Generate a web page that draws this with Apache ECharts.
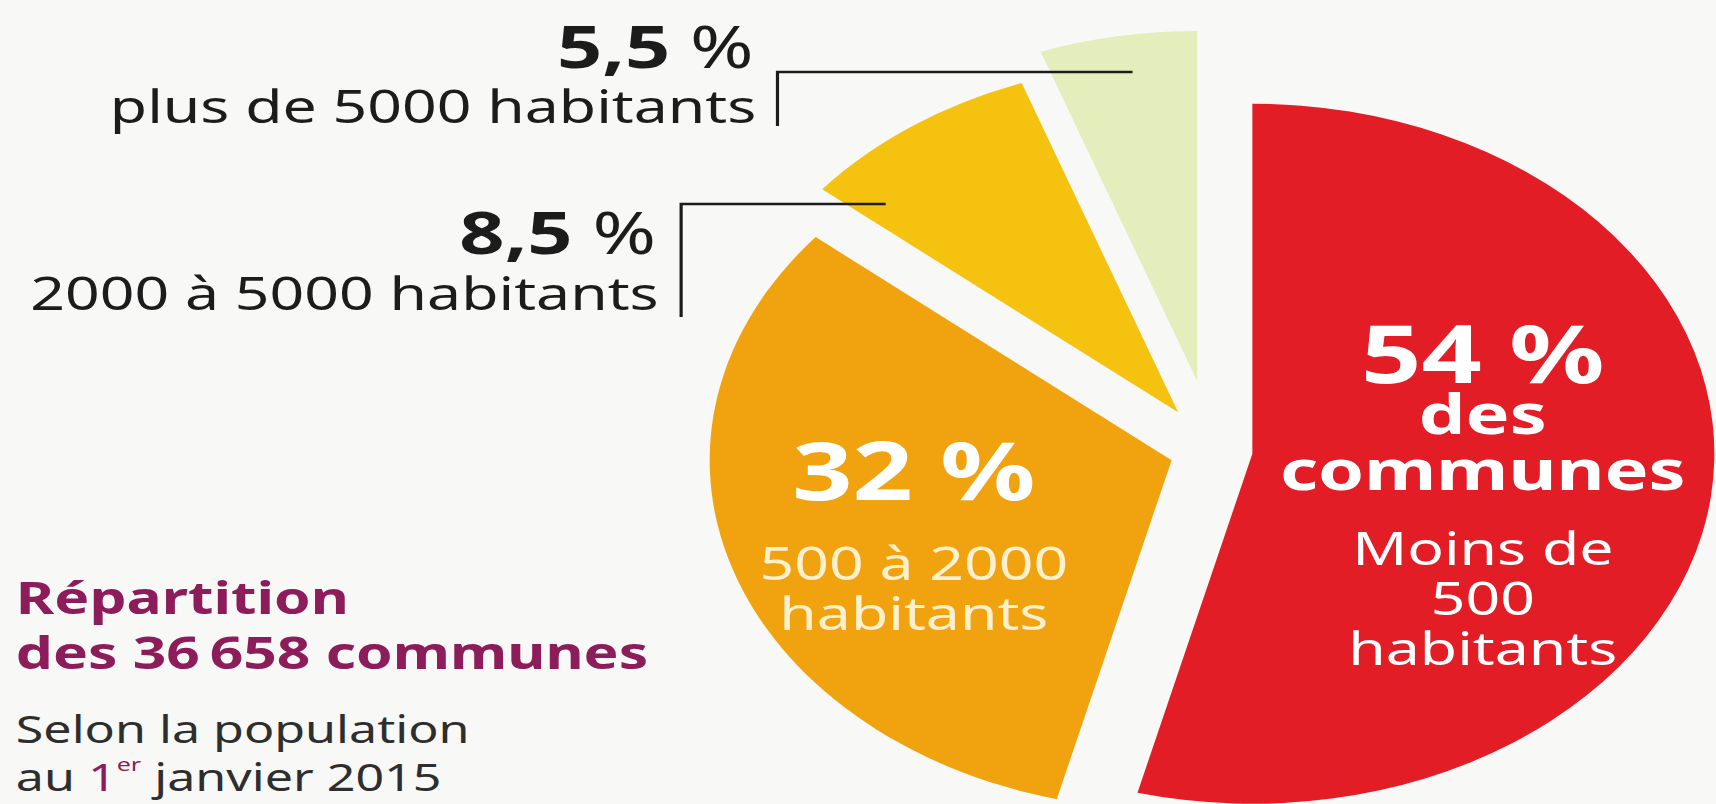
<!DOCTYPE html>
<html>
<head>
<meta charset="utf-8">
<title>Répartition des communes</title>
<script src="https://cdn.jsdelivr.net/npm/echarts@6/dist/echarts.min.js"></script>
<style>
  html, body { margin: 0; padding: 0; background: #f8f8f7; overflow: hidden; }
  /* the scanned page is stretched sideways, so draw narrow and widen */
  #chart { width: 1300px; height: 804px; transform: scaleX(1.32); transform-origin: 0 0; }
</style>
</head>
<body>
<div id="chart"></div>
<script>
// slices clockwise from 12 o'clock
const categories = ["Moins de\n500\nhabitants", "500 à 2000\nhabitants", "2000 à 5000 habitants", "plus de 5000 habitants"];
const shares = [54, 32, 8.5, 5.5];
const headlines = ["des\ncommunes", "", "", ""];
const titleLines = ["Répartition", "des 36\u202f658 communes"];
const subtitleLines = ["Selon la population", "au {m|1}{sup|er} janvier 2015"];

const colors = ["#e31d26", "#f0a30f", "#f5c30f", "#e4edbc"];
const explode = [30, 33, 46, 70];          // how far each slice is pulled out
const inside = [true, true, false, false];  // label drawn in the slice or beside it
const nudges = [{ dx: -2, dy: 20 }, { dx: -26, dy: 22 }, {}, {}];
const gaps = [26, 36, 0, 0];
const captionColors = ["#ffffff", "#fdf0cf"];

const FONT = '"Noto Sans", "DejaVu Sans", sans-serif';

function num(v) {
  return String(v).replace(".", ",");
}

let chart = echarts.init(document.getElementById("chart"), null, { renderer: "svg" });

// one pie per slice, so every slice can have its own pull-out distance
const series = shares.map(function (v, k) {
  return {
    type: "pie",
    center: [919, 450],
    radius: 350,
    startAngle: 90,
    clockwise: true,
    selectedMode: "multiple",
    selectedOffset: explode[k],
    avoidLabelOverlap: false,
    silent: true,
    z: 2,
    labelLayout: nudges[k],
    emphasis: { disabled: true },
    select: { itemStyle: { borderWidth: 0 } },
    label: {
      position: "inside",
      formatter: function (p) {
        let s = "{big|" + num(p.value) + " %}\n";
        if (headlines[p.dataIndex]) s += "{mid|" + headlines[p.dataIndex] + "}\n";
        s += "{gap| }\n{sm|" + p.name + "}";
        return s;
      },
      rich: {
        big: { fontFamily: FONT, fontWeight: "bold", fontSize: 80, lineHeight: 64, color: "#fff" },
        mid: { fontFamily: FONT, fontWeight: "bold", fontSize: 56, lineHeight: 56, color: "#fff" },
        gap: { fontSize: 10, lineHeight: gaps[k] },
        sm: { fontFamily: FONT, fontSize: 46, lineHeight: 50, color: captionColors[k] || "#fff" }
      }
    },
    labelLine: { show: false },
    data: shares.map(function (s, i) {
      return {
        name: categories[i],
        value: s,
        selected: i === k,
        itemStyle: { color: i === k ? colors[i] : "rgba(0,0,0,0)", borderWidth: 0 },
        label: { show: i === k && inside[i] }
      };
    })
  };
});

// callouts for the two thin slices: value, range, bracket-shaped leader
const callouts = [
  { i: 3, right: 573, valueY: 45, textY: 105, line: [[858, 72], [589, 72], [589, 126]] },
  { i: 2, right: 499, valueY: 231, textY: 292, line: [[671, 204], [516, 204], [516, 317]] }
];

const graphic = [];
callouts.forEach(function (c) {
  graphic.push({
    type: "text", z: 100,
    style: {
      text: "{b|" + num(shares[c.i]) + "}{r| %}", x: c.right - 2, y: c.valueY,
      align: "right", verticalAlign: "middle", textAlign: "right", textVerticalAlign: "middle",
      font: "bold 58px " + FONT, fill: "#1c1c1c",
      rich: {
        b: { fontFamily: FONT, fontWeight: "bold", fontSize: 60, fill: "#1c1c1c", color: "#1c1c1c" },
        r: { fontFamily: FONT, fontSize: 58, fill: "#1c1c1c", color: "#1c1c1c" }
      }
    }
  });
  graphic.push({
    type: "text", z: 100,
    style: { text: categories[c.i], x: c.right, y: c.textY, align: "right", verticalAlign: "middle",
      textAlign: "right", textVerticalAlign: "middle", font: "46px " + FONT, fill: "#1c1c1c" }
  });
  graphic.push({
    type: "polyline", z: 100,
    shape: { points: c.line },
    style: { stroke: "#1c1c1c", lineWidth: 2.4, fill: null }
  });
});

// title block, bottom left
graphic.push({
  type: "text", z: 100,
  style: { text: titleLines[0], x: 12, y: 597, verticalAlign: "middle", textVerticalAlign: "middle",
    font: "bold 44.5px " + FONT, fill: "#8c1d5a" }
});
graphic.push({
  type: "text", z: 100,
  style: { text: titleLines[1], x: 12, y: 652, verticalAlign: "middle", textVerticalAlign: "middle",
    font: "bold 44.5px " + FONT, fill: "#8c1d5a" }
});
graphic.push({
  type: "text", z: 100,
  style: { text: subtitleLines[0], x: 12, y: 728, verticalAlign: "middle", textVerticalAlign: "middle",
    font: "38px " + FONT, fill: "#2e2e2e" }
});
graphic.push({
  type: "text", z: 100,
  style: {
    text: subtitleLines[1], x: 12, y: 776, verticalAlign: "middle", textVerticalAlign: "middle",
    font: "38px " + FONT, fill: "#2e2e2e",
    rich: {
      m: { fontFamily: FONT, fontSize: 38, lineHeight: 44, fill: "#8c1d5a", color: "#8c1d5a" },
      sup: { fontFamily: FONT, fontSize: 19, lineHeight: 44, verticalAlign: "top", fill: "#8c1d5a", color: "#8c1d5a" }
    }
  }
});

chart.setOption({
  backgroundColor: "#f8f8f7",
  animation: false,
  textStyle: { fontFamily: FONT },
  tooltip: { show: false },
  series: series,
  graphic: graphic
});
</script>
</body>
</html>
